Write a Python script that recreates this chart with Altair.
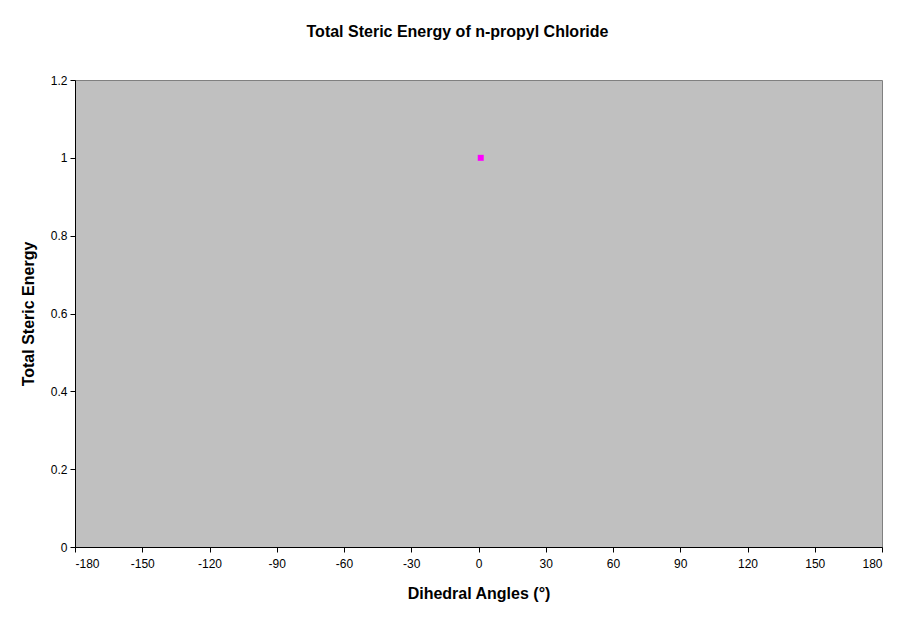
import altair as alt
import pandas as pd

angles = [1]
energies = [1]
x_ticks = list(range(-180, 181, 30))
y_ticks = [0, 0.2, 0.4, 0.6, 0.8, 1.0, 1.2]

df = pd.DataFrame({"angle": angles, "energy": energies})

FONT = "Liberation Sans"

chart = alt.Chart(df).mark_point(
    shape="square", filled=True, size=36, color="#FF00FF", opacity=1
).encode(
    x=alt.X("angle:Q", scale=alt.Scale(domain=[-180, 180], nice=False, zero=False),
            axis=alt.Axis(values=x_ticks, title="Dihedral Angles (°)", titlePadding=16,
                          labelPadding=6, labelExpr="toString(datum.value)")),
    y=alt.Y("energy:Q", scale=alt.Scale(domain=[0, 1.2], nice=False),
            axis=alt.Axis(values=y_ticks, title="Total Steric Energy", titlePadding=14,
                          labelExpr="toString(round(datum.value * 10) / 10)")),
).properties(
    width=807,
    height=467,
    background="white",
    title=alt.TitleParams("Total Steric Energy of n-propyl Chloride", font=FONT, fontSize=16,
                          fontWeight="bold", color="black", offset=34, dx=-21),
    autosize=alt.AutoSizeParams(type="none"),
    padding={"left": 67, "top": 72, "right": 21, "bottom": 68},
).configure_view(
    fill="#C0C0C0", stroke="#808080", strokeWidth=1
).configure_axis(
    grid=False, domainColor="black", tickColor="black", tickSize=5,
    labelFont=FONT, labelFontSize=12, labelColor="black", labelPadding=3,
    titleFont=FONT, titleFontSize=16, titleFontWeight="bold", titleColor="black",
)

chart.save("out.html", embed_options={"renderer": "svg", "actions": False})
